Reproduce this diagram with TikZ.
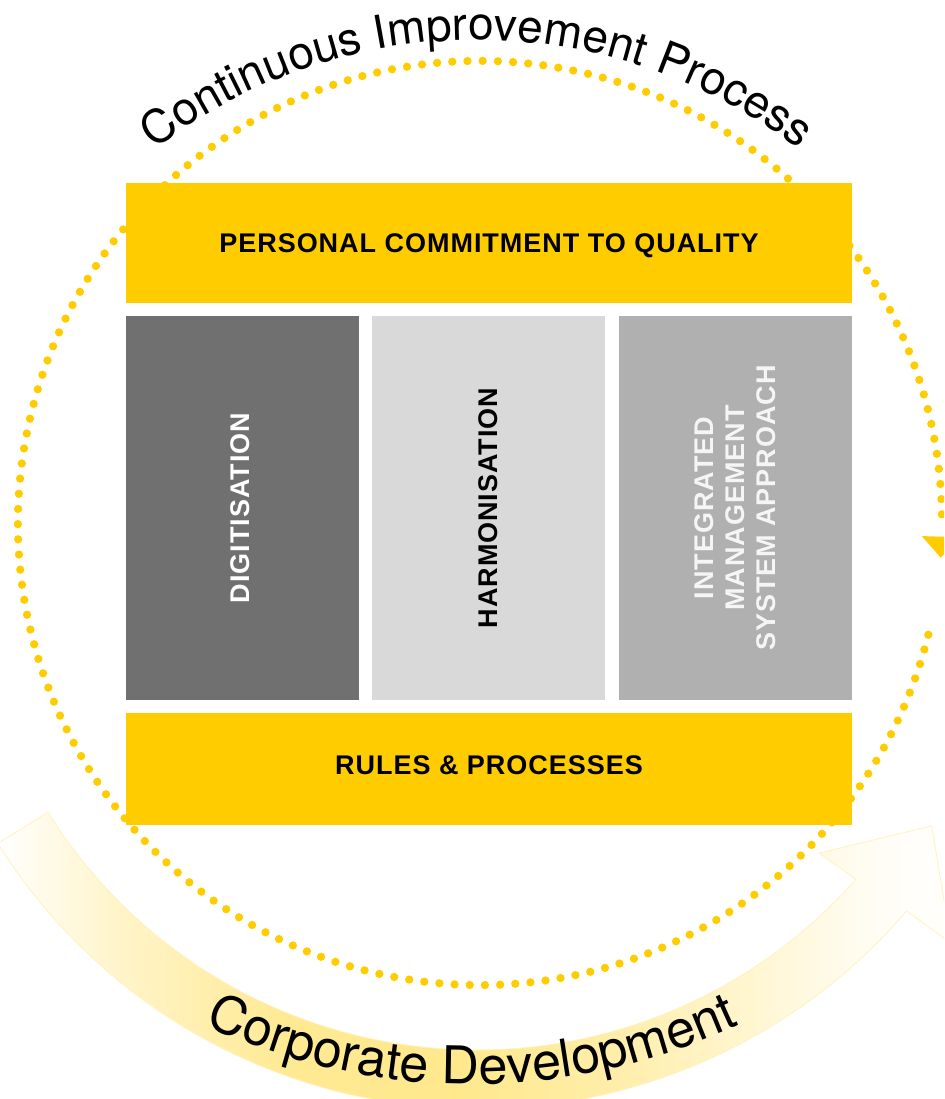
\documentclass[tikz,border=0pt]{standalone}
\usepackage{fontspec}
\setmainfont{Liberation Sans}
\newfontfamily\boxfont[LetterSpace=3.6]{Liberation Sans}
\newfontfamily\arcfont{TeX Gyre Heros}
\usetikzlibrary{decorations.text}
\definecolor{qyellow}{HTML}{FFCC00}
\definecolor{qdark}{HTML}{707070}
\definecolor{qlight}{HTML}{D9D9D9}
\definecolor{qmid}{HTML}{B0B0B0}
\pgfdeclarehorizontalshading{bandshade}{100bp}{color(0bp)=(white); color(25bp)=(white);
  color(27bp)=(qyellow!7); color(31bp)=(qyellow!20); color(40bp)=(qyellow!42);
  color(49bp)=(qyellow!45); color(57bp)=(qyellow!34); color(65bp)=(qyellow!17);
  color(70bp)=(qyellow!6); color(73bp)=(qyellow!2); color(100bp)=(white)}
\begin{document}
\begin{tikzpicture}
  [x=1pt,y=1pt,
   bar/.style={rectangle,fill=qyellow,minimum width=726pt,inner sep=0,outer sep=0,
               text height=19.4pt,text depth=0pt,
               font=\boxfont\bfseries\fontsize{27}{31}\selectfont,align=center},
   pillar/.style={rectangle,rotate=90,minimum width=384pt,minimum height=233pt,
               inner sep=0,outer sep=0,
               font=\boxfont\bfseries\fontsize{27}{31}\selectfont,align=center},
   dots/.style={qyellow,line width=8.3pt,line cap=round,dash pattern=on 0pt off 15.2pt},
   arctext/.style 2 args={decorate,decoration={text along path,text align=center,
               text={|\arcfont\fontsize{#1}{#1}\selectfont|#2}}}]
  \useasboundingbox (0,0) rectangle (944,1099);
  \clip (0,0) rectangle (944,1099);
  \coordinate (bandc) at (477,555);
  \coordinate (loopc) at (480,576);
  \shade[shading=bandshade,draw=qyellow!25,line width=0.8pt]
    ([shift={(212:506)}]bandc) arc[start angle=212,end angle=318.5,radius=506]
    -- ([shift={(-42.1:461)}]bandc) -- ([shift={(-31.8:535)}]bandc)
    -- ([shift={(-40.1:620)}]bandc) -- ([shift={(-40.5:565)}]bandc)
    arc[start angle=319.5,end angle=212,radius=565] -- cycle;
  \draw[dots] ([shift={(-14:462)}]loopc) arc[start angle=-14,end angle=-360,radius=462];
  \fill[qyellow] ([shift={(-1.7:442)}]loopc) -- ([shift={(-1.7:482)}]loopc)
    -- ([shift={(-4.3:462)}]loopc) -- cycle;
  \node[bar,minimum height=120pt] (quality) at (489,856) {PERSONAL COMMITMENT TO QUALITY};
  \node[pillar,fill=qdark,text=white,text depth=5pt] (digit) at (242.5,591) {DIGITISATION};
  \node[pillar,fill=qlight,text=black] (harmon) at (488.5,591) {HARMONISATION};
  \node[pillar,fill=qmid,text=white!96!black] (ims) at (735.5,591)
    {INTEGRATED\\MANAGEMENT\\SYSTEM APPROACH};
  \node[bar,minimum height=112pt,text depth=8pt] (rules) at (489,330) {RULES \& PROCESSES};
  \path[arctext={46}{Continuous Improvement Process}]
    (477,530) ++(150:529) arc[start angle=150,end angle=30,radius=529];
  \path[arctext={52}{Corporate Development}]
    (472,649) ++(200:634) arc[start angle=200,end angle=340,radius=634];
\end{tikzpicture}
\end{document}
